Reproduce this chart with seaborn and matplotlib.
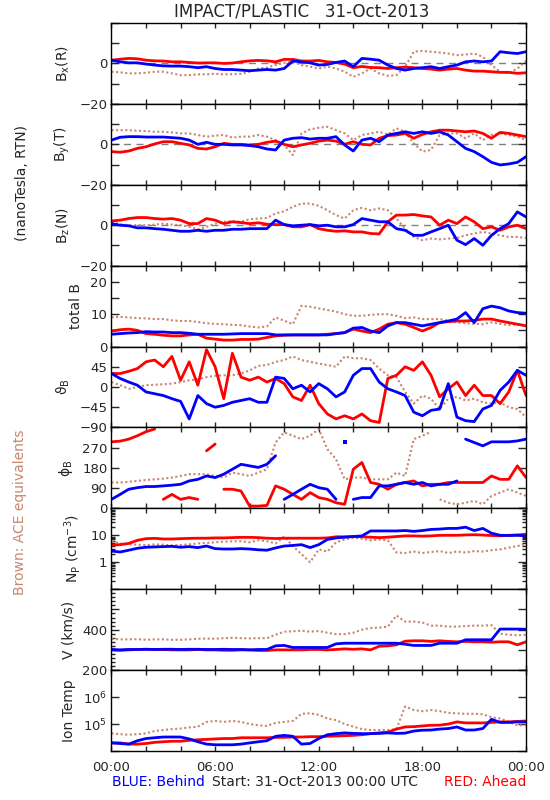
import numpy as np
import matplotlib
matplotlib.use('Agg')
import matplotlib.pyplot as plt
import seaborn as sns
from matplotlib.ticker import MultipleLocator, LogLocator, NullFormatter, FixedLocator

# half-hour samples, 31-Oct-2013 00:00 -> 01-Nov 00:00
hours = np.arange(0, 24.5, 0.5)

bx_red = [1.6, 2.1, 2.5, 2.3, 1.6, 1.3, 1.2, 0.8, 0.8, 0.5, 0.2, 0.3, 0.3, 0.0, 0.2, 0.8, 1.3, 1.5, 1.3, 0.8,
          2.0, 2.0, 1.2, 1.2, 1.5, 0.8, 0.5, -0.3, -2.1, -1.5, -2.0, -2.1, -2.5, -2.1, -1.8, -2.1, -2.5, -2.8,
          -3.3, -2.8, -2.5, -3.3, -3.8, -3.8, -4.1, -4.4, -4.4, -4.9, -4.6]
bx_blue = [1.6, 0.8, 0.3, 0.3, -0.3, -0.8, -1.2, -1.3, -1.3, -1.6, -2.1, -1.6, -2.5, -3.0, -3.0, -3.3, -3.6,
           -3.3, -3.0, -3.3, -2.5, 1.2, 0.8, 0.3, -0.8, -0.5, 0.5, 1.2, -1.6, 2.5, 2.1, 1.6, -0.8, -2.5, -3.3,
           -2.5, -2.1, -1.6, -2.5, -1.6, -0.8, 0.8, 1.2, 0.8, 1.2, 5.8, 5.3, 4.9, 5.8]
bx_brown = [-4.1, -4.4, -4.9, -4.9, -4.6, -4.1, -4.1, -4.9, -5.8, -5.8, -5.4, -5.4, -5.1, -5.4, -5.3, -5.1,
            -4.1, -2.5, -2.1, -0.8, 0.3, 0.8, -0.8, -1.6, -2.5, -1.6, -2.5, -4.1, -6.6, -4.9, -2.5, -4.9, -6.1,
            -5.8, -1.6, 5.8, 6.2, 5.8, 5.4, 4.9, 4.1, 4.4, 4.9, 3.3, -0.8, -4.1, -4.9, -2.5, 1.2]

by_red = [-3.6, -3.9, -3.3, -2.0, -1.2, 0.2, 1.3, 1.3, 0.5, -0.3, -2.0, -2.3, -1.2, 0.5, 0.0, 0.0, -0.3, 0.0,
          1.0, 1.6, 0.0, -1.2, -0.3, 0.5, 1.6, 2.1, 1.6, 0.0, 1.3, 0.0, -0.3, 3.0, 4.3, 4.6, 5.4, 3.0, 4.9, 6.2,
          7.0, 7.0, 6.6, 6.2, 6.6, 5.4, 3.0, 5.9, 5.4, 4.6, 3.8]
by_blue = [2.1, 3.5, 3.8, 3.8, 3.6, 3.6, 3.6, 3.3, 3.0, 2.1, 0.0, 1.0, 0.0, 0.0, -0.3, -0.3, -0.6, -1.2, -2.3,
           -2.8, 2.1, 3.0, 3.3, 2.6, 3.0, 3.0, 3.8, -0.3, -3.3, 2.1, 3.0, 1.3, 4.6, 5.4, 6.2, 5.4, 6.2, 5.4, 6.2,
           4.6, 1.3, -2.0, -3.6, -6.1, -8.9, -10.2, -9.7, -8.9, -6.1]
by_brown = [7.0, 7.0, 7.0, 6.7, 6.6, 6.2, 6.2, 5.9, 5.4, 5.4, 4.6, 3.8, 4.3, 4.6, 3.3, 3.8, 3.8, 4.6, 3.8, 2.1,
            -0.3, -5.3, 5.4, 7.4, 8.2, 8.7, 7.0, 5.4, 2.1, 4.6, 5.4, 6.2, 4.9, 7.9, 6.2, 0.5, -3.6, -2.8, 4.6,
            5.4, 5.4, 3.0, 5.4, 2.1, 4.6, 5.4, 4.6, 3.8, 2.1]

bz_red = [2.1, 2.5, 3.3, 3.8, 3.8, 3.3, 3.0, 3.3, 2.5, 0.8, 0.8, 3.3, 2.5, 0.8, 1.7, 1.3, 0.8, 1.2, 0.5, 0.3,
          0.3, -0.8, -0.8, 0.3, -1.7, -2.5, -3.0, -2.8, -3.3, -3.3, -4.1, -4.3, 1.7, 5.0, 5.0, 5.3, 4.6, 4.1,
          0.0, 2.5, 0.8, 4.1, 1.7, -1.7, -0.8, -2.5, -0.8, 0.0, -1.7]
bz_blue = [0.8, 0.0, -0.3, -1.3, -1.3, -1.7, -2.0, -2.5, -3.0, -3.0, -2.5, -3.0, -2.5, -2.5, -2.0, -2.0, -1.7,
           -1.7, -1.7, 2.5, 0.3, -0.3, 0.0, 0.3, -0.3, 0.0, -0.8, -0.8, 0.3, 3.3, 2.5, 1.7, 1.7, -1.7, -2.5,
           -5.0, -5.0, -3.3, -1.7, 0.0, -7.4, -9.6, -6.6, -9.9, -5.0, -1.7, 0.8, 6.6, 4.1]
bz_brown = [1.7, 0.5, 0.0, 0.0, 0.0, 0.3, 0.8, 0.3, 0.0, -0.8, -2.0, -0.8, 0.8, 1.7, 2.0, 1.7, 3.0, 3.3, 3.6,
            5.8, 6.9, 9.1, 10.7, 10.7, 9.6, 7.4, 5.0, 3.3, 7.4, 8.6, 7.4, 8.3, 7.4, 3.3, -1.7, -5.8, -7.4, -6.6,
            -7.0, -6.6, -6.3, -5.0, -4.1, -3.3, -4.1, -5.0, -5.8, -5.8, -6.3]

bt_red = [4.8, 5.2, 5.4, 5.0, 4.0, 3.8, 3.5, 3.3, 3.3, 3.6, 3.8, 2.6, 2.3, 2.0, 2.0, 2.2, 2.2, 2.3, 2.8, 3.3,
          3.5, 3.6, 3.6, 3.6, 3.6, 3.8, 4.0, 4.3, 5.4, 4.8, 4.3, 5.4, 6.9, 7.4, 6.9, 5.9, 4.8, 5.9, 7.4, 7.7,
          7.9, 7.9, 8.1, 8.5, 8.5, 7.9, 7.4, 6.9, 6.4]
bt_blue = [3.8, 4.0, 4.2, 4.3, 4.6, 4.5, 4.5, 4.3, 4.3, 4.1, 3.8, 3.8, 3.8, 3.8, 3.9, 4.0, 4.0, 4.0, 4.0, 3.6,
           3.6, 3.6, 3.6, 3.6, 3.6, 3.6, 4.0, 4.3, 5.7, 5.9, 4.8, 4.3, 6.4, 7.4, 7.4, 6.9, 6.4, 6.9, 7.4, 7.9,
           8.5, 10.5, 7.4, 11.7, 12.5, 12.0, 11.0, 10.5, 10.3]
bt_brown = [9.0, 9.2, 9.0, 8.8, 8.7, 8.5, 8.5, 8.1, 7.9, 7.9, 7.6, 7.2, 7.0, 6.9, 6.7, 6.6, 6.2, 5.9, 6.2, 9.0,
            8.0, 6.9, 12.6, 12.3, 11.8, 11.3, 10.8, 10.0, 9.5, 9.5, 9.8, 10.0, 10.0, 9.5, 8.8, 9.0, 8.5, 8.5,
            8.5, 8.0, 7.5, 7.2, 7.0, 6.9, 7.5, 7.0, 6.6, 6.9, 6.6]

th_red = [30, 30, 35, 41, 56, 60, 45, 68, 15, 56, 4, 83, 45, -26, 75, 22, 15, 22, 11, 19, 7.5, -22, -30, 4,
          -37, -60, -71, -64, -71, -60, -75, -79, 19, 26, 45, 37, 56, 26, -22, -4, 11, -19, 4, -19, -19, -37,
          -11, 37, -19]
th_blue = [30, 19, 11, 4, -11, -15, -19, -26, -32, -71, -19, -37, -45, -41, -34, -30, -26, -34, -34, 22, 19,
           -4, 4, -11, 7.5, -4, -22, -11, 26, 41, 41, 11, -4, -11, -19, -56, -64, -52, -49, 7.5, -67, -75, -77,
           -49, -41, -7.5, 11, 37, 26]
th_brown = [11, 4, -4, 0, 4, 5, 6, 7.5, 11, 15, 17, 22, 25, 26, 26, 30, 37, 47, 49, 56, 60, 68, 60, 56, 52, 49,
            45, 68, 64, 64, 60, 41, 26, 22, -11, -37, -19, -26, -49, -26, -22, -30, -26, -34, -37, -34, -45,
            -49, -67]

ph_red = [296, 299, 308, 323, 341, 353, 40, 62, 40, 48, 40, 256, 286, 85, 85, 77, 10, 10, 13, 100, 85, 62, 40,
          70, 48, 40, 25, 18, 174, 204, 115, 107, 85, 107, 115, 122, 100, 107, 107, 115, 115, 115, 115, 115,
          144, 129, 129, 189, 137]
ph_blue = [40, 62, 85, 92, 97, 97, 100, 103, 107, 122, 129, 144, 137, 152, 174, 196, 189, 182, 196, 234, 40,
           62, 85, 107, 92, 85, 40, 293, 40, 48, 48, 100, 100, 107, 115, 107, 115, 100, 107, 107, 122, 308, 293,
           278, 296, 296, 296, 300, 308]
ph_brown = [115, 115, 118, 122, 126, 129, 132, 137, 144, 152, 152, 152, 144, 137, 159, 152, 144, 159, 174, 293,
            338, 323, 308, 323, 353, 263, 219, 129, 137, 137, 129, 129, 129, 159, 144, 308, 323, 341, 40, 25,
            18, 25, 33, 18, 55, 70, 85, 70, 55]

np_red = [4.3, 4.5, 5.0, 6.5, 7.5, 7.7, 7.3, 7.3, 7.5, 7.7, 7.8, 7.8, 8.0, 8.0, 8.2, 8.4, 8.4, 8.2, 7.8, 7.6,
          7.8, 7.8, 7.8, 7.8, 7.8, 8.0, 8.8, 8.8, 9.0, 8.8, 8.5, 8.2, 8.5, 9.0, 9.5, 9.5, 9.3, 9.5, 10.0, 10.0,
          10.0, 10.3, 10.5, 10.2, 9.8, 9.6, 10.0, 10.3, 11.0]
np_blue = [2.6, 2.4, 2.8, 3.3, 3.6, 3.7, 3.8, 3.9, 3.6, 3.8, 3.5, 4.0, 3.2, 3.1, 3.1, 3.2, 3.1, 2.9, 2.8, 3.4,
           4.0, 4.2, 4.5, 3.5, 4.5, 7.0, 8.0, 8.5, 9.0, 9.5, 14.5, 14.5, 14.5, 14.5, 15.0, 14.0, 15.0, 16.5,
           17.0, 18.0, 18.0, 20.0, 15.0, 18.0, 12.0, 10.0, 9.8, 10.0, 9.5]
np_brown = [6.0, 5.0, 4.6, 4.5, 4.3, 4.6, 4.5, 4.2, 4.4, 4.6, 5.0, 5.2, 5.5, 5.8, 6.0, 6.0, 5.5, 6.5, 6.0, 5.0,
            9.0, 4.0, 2.0, 1.0, 3.0, 2.5, 5.5, 7.0, 8.0, 7.5, 6.5, 7.0, 6.5, 2.3, 2.2, 2.5, 2.2, 2.4, 2.6, 2.2,
            2.5, 2.3, 2.6, 2.5, 2.8, 3.0, 3.5, 4.0, 4.5]

v_red = [300, 298, 300, 302, 303, 302, 302, 300, 300, 300, 302, 300, 300, 298, 298, 300, 300, 297, 297, 300,
         300, 300, 300, 302, 302, 300, 302, 305, 303, 305, 300, 318, 320, 325, 343, 345, 345, 342, 345, 342,
         340, 342, 340, 340, 338, 340, 340, 325, 340]
v_blue = [302, 300, 302, 302, 303, 302, 303, 303, 302, 303, 303, 302, 302, 303, 302, 302, 300, 302, 302, 320,
          322, 312, 312, 312, 312, 312, 330, 333, 333, 333, 333, 333, 333, 333, 328, 322, 322, 322, 333, 333,
          333, 350, 350, 350, 350, 403, 403, 403, 402]
v_brown = [355, 352, 352, 353, 350, 352, 352, 350, 350, 352, 355, 356, 355, 358, 360, 358, 357, 358, 358, 375,
           390, 392, 395, 390, 393, 385, 378, 378, 385, 400, 408, 410, 415, 470, 440, 440, 435, 420, 420, 415,
           415, 418, 420, 420, 422, 380, 375, 372, 375]

t_red = [2.0e4, 2.0e4, 1.8e4, 1.8e4, 1.9e4, 2.1e4, 2.2e4, 2.3e4, 2.3e4, 2.5e4, 2.6e4, 2.7e4, 2.8e4, 2.9e4,
         2.9e4, 3.1e4, 3.1e4, 3.1e4, 3.1e4, 3.2e4, 3.2e4, 3.3e4, 3.3e4, 3.4e4, 3.4e4, 3.5e4, 3.6e4, 3.7e4,
         3.8e4, 4.0e4, 4.4e4, 4.7e4, 5.0e4, 6.5e4, 7.8e4, 8.0e4, 8.5e4, 9.0e4, 9.1e4, 1.0e5, 1.2e5, 1.1e5,
         1.1e5, 1.1e5, 1.15e5, 1.2e5, 1.2e5, 1.25e5, 1.3e5]
t_blue = [2.0e4, 1.9e4, 1.8e4, 2.4e4, 2.9e4, 3.1e4, 3.3e4, 3.3e4, 3.3e4, 2.8e4, 2.2e4, 1.8e4, 1.7e4, 1.7e4,
          1.7e4, 1.8e4, 2.0e4, 2.2e4, 2.4e4, 3.5e4, 3.8e4, 3.5e4, 1.8e4, 1.9e4, 2.9e4, 4.0e4, 4.4e4, 4.7e4,
          4.5e4, 4.4e4, 4.4e4, 4.5e4, 4.7e4, 4.5e4, 4.6e4, 5.5e4, 5.9e4, 6.0e4, 6.5e4, 6.8e4, 7.8e4, 6.0e4,
          6.0e4, 6.8e4, 1.5e5, 1.15e5, 1.15e5, 1.2e5, 1.2e5]
t_brown = [4.5e4, 4.2e4, 4.0e4, 4.2e4, 4.5e4, 5.5e4, 6.0e4, 6.5e4, 6.8e4, 7.5e4, 8.0e4, 1.2e5, 1.3e5, 1.2e5,
           1.3e5, 1.2e5, 1.0e5, 9.0e4, 8.5e4, 1.1e5, 1.2e5, 1.3e5, 2.4e5, 2.5e5, 2.2e5, 1.6e5, 1.4e5, 1.0e5,
           8.0e4, 6.5e4, 6.0e4, 6.0e4, 6.0e4, 6.5e4, 4.5e5, 3.3e5, 3.0e5, 3.3e5, 3.0e5, 2.6e5, 2.5e5, 2.4e5,
           2.4e5, 2.3e5, 1.8e5, 1.6e5, 1.2e5, 9.0e4, 9.0e4]

RED = '#FF0000'
BLUE = '#0000FF'
BROWN = '#C8866E'
M = '\u2212'

sns.set_style('white')
plt.rcParams['font.family'] = ['DejaVu Sans']
plt.rcParams['mathtext.default'] = 'regular'
plt.rcParams['axes.linewidth'] = 1.0

fig, axes = plt.subplots(9, 1, figsize=(5.5, 8), dpi=100, sharex=True)
fig.subplots_adjust(left=0.2027, right=0.9564, top=0.97125, bottom=0.06125, hspace=0)


def draw(ax, y, color, brown=False, wrap=False):
    y = np.asarray(y, dtype=float)
    cuts = [0]
    if wrap:
        cuts += list(np.where(np.abs(np.diff(y)) > 180)[0] + 1)
    cuts.append(len(y))
    if brown:
        style = dict(linewidth=1.5, linestyle=(0, (1, 1.2)))
    else:
        style = dict(linewidth=2.0)
    for a, b in zip(cuts[:-1], cuts[1:]):
        extra = dict(marker='s', markersize=2.5, markeredgewidth=0) if b - a == 1 else {}
        sns.lineplot(x=hours[a:b], y=y[a:b], ax=ax, color=color, estimator=None,
                     sort=False, legend=False, **style, **extra)


panels = [
    ('B$_x$(R)', bx_brown, bx_red, bx_blue),
    ('B$_y$(T)', by_brown, by_red, by_blue),
    ('B$_z$(N)', bz_brown, bz_red, bz_blue),
    ('total B', bt_brown, bt_red, bt_blue),
    (r'$\vartheta_B$', th_brown, th_red, th_blue),
    (r'$\phi_B$', ph_brown, ph_red, ph_blue),
    ('N$_P$ (cm$^{-3}$)', np_brown, np_red, np_blue),
    ('V (km/s)', v_brown, v_red, v_blue),
    ('Ion Temp', t_brown, t_red, t_blue),
]

for i, (ax, (label, brown, red, blue)) in enumerate(zip(axes, panels)):
    if i in (6, 8):
        ax.set_yscale('log')
    if i < 3:
        ax.axhline(0, color='#808080', linestyle=(0, (5, 4)), linewidth=1, zorder=0)
    wrap = (i == 5)
    draw(ax, brown, BROWN, brown=True, wrap=wrap)
    draw(ax, red, RED, wrap=wrap)
    draw(ax, blue, BLUE, wrap=wrap)
    ax.set_ylabel(label, fontsize=10, labelpad=5)

    ax.set_xlim(0, 24)
    ax.xaxis.set_major_locator(FixedLocator([0, 6, 12, 18, 24]))
    ax.xaxis.set_minor_locator(MultipleLocator(2))
    ax.tick_params(axis='both', which='both', direction='in', left=True, right=True,
                   top=True, bottom=True, labelsize=9.5, width=1)
    ax.tick_params(axis='y', which='major', length=6, pad=3)
    ax.tick_params(axis='y', which='minor', length=3)
    ax.tick_params(axis='x', which='both', length=3.5)
    for s in ax.spines.values():
        s.set_color('black')

for ax in axes[:3]:
    ax.set_ylim(-20, 20)
    ax.set_yticks([-20, -10, 0, 10, 20])
    ax.set_yticklabels([M + '20', '', '0', '', ''])

axes[3].set_ylim(0, 25)
axes[3].set_yticks([0, 5, 10, 15, 20, 25])
axes[3].set_yticklabels(['0', '', '10', '', '20', ''])

axes[4].set_ylim(-90, 90)
axes[4].set_yticks([-90, -45, 0, 45, 90])
axes[4].set_yticklabels([M + '90', M + '45', '0', '45', ''])

axes[5].set_ylim(0, 360)
axes[5].set_yticks([0, 90, 180, 270, 360])
axes[5].set_yticklabels(['0', '90', '180', '270', ''])

axes[6].set_ylim(0.1, 100)
axes[6].set_yticks([0.1, 1, 10, 100])
axes[6].set_yticklabels(['', '1', '10', ''])
axes[6].yaxis.set_minor_locator(LogLocator(subs=range(2, 10)))
axes[6].yaxis.set_minor_formatter(NullFormatter())

axes[7].set_ylim(200, 600)
axes[7].set_yticks([200, 300, 400, 500, 600])
axes[7].set_yticklabels(['200', '', '400', '', ''])
axes[7].yaxis.set_minor_locator(MultipleLocator(20))
axes[7].tick_params(axis='y', which='minor', right=False)

axes[8].set_ylim(1e4, 1e7)
axes[8].set_yticks([1e4, 1e5, 1e6, 1e7])
axes[8].set_yticklabels(['', '$10^5$', '$10^6$', ''])
axes[8].yaxis.set_minor_locator(FixedLocator([]))

axes[8].set_xticklabels(['00:00', '06:00', '12:00', '18:00', '00:00'])
axes[8].tick_params(axis='x', which='major', pad=7)
for ax in axes[:-1]:
    ax.tick_params(axis='x', labelbottom=False)
for ax in axes:
    ax.set_xlabel('')

fig.text(302 / 550, 1 - 12 / 800, 'IMPACT/PLASTIC   31-Oct-2013', ha='center', va='center', fontsize=12)
fig.text(22 / 550, 1 - 183 / 800, '(nanoTesla, RTN)', rotation=90, ha='center', va='center', fontsize=10)
fig.text(20 / 550, 1 - 512 / 800, 'Brown: ACE equivalents', rotation=90, ha='center', va='center',
         fontsize=10, color=BROWN)
fig.text(112 / 550, 1 - 782 / 800, 'BLUE: Behind', color=BLUE, ha='left', va='center', fontsize=10)
fig.text(212 / 550, 1 - 782 / 800, 'Start: 31-Oct-2013 00:00 UTC', ha='left', va='center', fontsize=10)
fig.text(526 / 550, 1 - 782 / 800, 'RED: Ahead', color=RED, ha='right', va='center', fontsize=10)

fig.savefig('out.png', dpi=100, facecolor='white')
